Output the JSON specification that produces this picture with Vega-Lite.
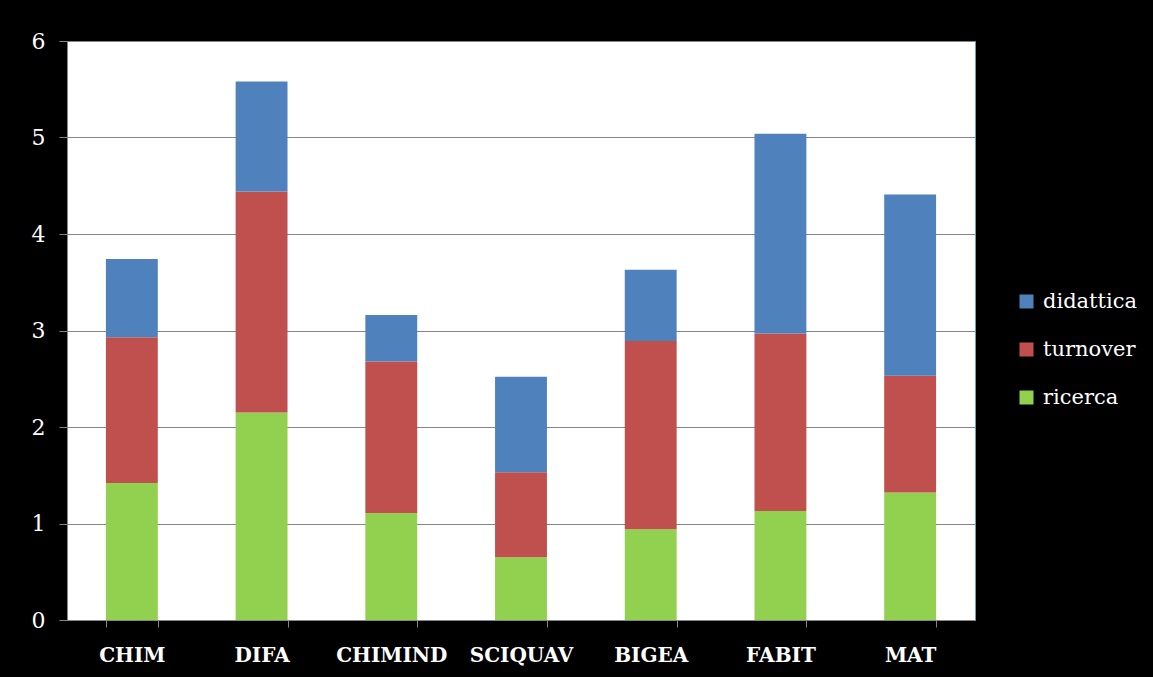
{
  "$schema": "https://vega.github.io/schema/vega-lite/v6.json",
  "width": 908,
  "height": 579,
  "autosize": {"type": "none"},
  "padding": {"left": 67, "top": 41, "right": 178, "bottom": 57},
  "background": "#000000",
  "data": {
    "values": [
      {"dip": "CHIM", "serie": "ricerca", "valore": 1.42, "ord": 1},
      {"dip": "CHIM", "serie": "turnover", "valore": 1.51, "ord": 2},
      {"dip": "CHIM", "serie": "didattica", "valore": 0.81, "ord": 3},
      {"dip": "DIFA", "serie": "ricerca", "valore": 2.15, "ord": 1},
      {"dip": "DIFA", "serie": "turnover", "valore": 2.29, "ord": 2},
      {"dip": "DIFA", "serie": "didattica", "valore": 1.14, "ord": 3},
      {"dip": "CHIMIND", "serie": "ricerca", "valore": 1.11, "ord": 1},
      {"dip": "CHIMIND", "serie": "turnover", "valore": 1.57, "ord": 2},
      {"dip": "CHIMIND", "serie": "didattica", "valore": 0.48, "ord": 3},
      {"dip": "SCIQUAV", "serie": "ricerca", "valore": 0.65, "ord": 1},
      {"dip": "SCIQUAV", "serie": "turnover", "valore": 0.88, "ord": 2},
      {"dip": "SCIQUAV", "serie": "didattica", "valore": 0.99, "ord": 3},
      {"dip": "BIGEA", "serie": "ricerca", "valore": 0.94, "ord": 1},
      {"dip": "BIGEA", "serie": "turnover", "valore": 1.95, "ord": 2},
      {"dip": "BIGEA", "serie": "didattica", "valore": 0.74, "ord": 3},
      {"dip": "FABIT", "serie": "ricerca", "valore": 1.13, "ord": 1},
      {"dip": "FABIT", "serie": "turnover", "valore": 1.84, "ord": 2},
      {"dip": "FABIT", "serie": "didattica", "valore": 2.07, "ord": 3},
      {"dip": "MAT", "serie": "ricerca", "valore": 1.32, "ord": 1},
      {"dip": "MAT", "serie": "turnover", "valore": 1.21, "ord": 2},
      {"dip": "MAT", "serie": "didattica", "valore": 1.88, "ord": 3}
    ]
  },
  "config": {
    "view": {"fill": "#FFFFFF", "stroke": "#6C9BD2", "strokeWidth": 1}
  },
  "mark": {"type": "bar"},
  "encoding": {
    "x": {
      "field": "dip",
      "type": "nominal",
      "sort": ["CHIM", "DIFA", "CHIMIND", "SCIQUAV", "BIGEA", "FABIT", "MAT"],
      "scale": {"paddingInner": 0.6, "paddingOuter": 0.3},
      "axis": {
        "title": null,
        "labelAngle": 0,
        "labelColor": "#FFFFFF",
        "labelFont": "DejaVu Serif",
        "labelFontWeight": "bold",
        "labelFontSize": 20,
        "labelPadding": 18,
        "tickBand": "extent",
        "tickSize": 7,
        "tickColor": "#868686",
        "domainColor": "#868686",
        "grid": false
      }
    },
    "y": {
      "field": "valore",
      "type": "quantitative",
      "stack": "zero",
      "scale": {"domain": [0, 6], "nice": false},
      "axis": {
        "title": null,
        "values": [0, 1, 2, 3, 4, 5, 6],
        "labelColor": "#FFFFFF",
        "labelFont": "DejaVu Serif",
        "labelFontSize": 22,
        "labelPadding": 14,
        "tickSize": 8,
        "tickColor": "#868686",
        "domainColor": "#868686",
        "gridColor": "#868686",
        "gridWidth": 1
      }
    },
    "color": {
      "field": "serie",
      "type": "nominal",
      "scale": {
        "domain": ["didattica", "turnover", "ricerca"],
        "range": ["#4F81BD", "#C0504D", "#92D050"]
      },
      "legend": {
        "title": null,
        "orient": "none",
        "legendX": 949,
        "legendY": 250,
        "symbolType": "square",
        "symbolSize": 196,
        "symbolStrokeWidth": 0,
        "labelColor": "#FFFFFF",
        "labelFont": "DejaVu Serif",
        "labelFontSize": 21,
        "labelOffset": 6,
        "rowPadding": 26
      }
    },
    "order": {"field": "ord", "type": "quantitative"}
  }
}
